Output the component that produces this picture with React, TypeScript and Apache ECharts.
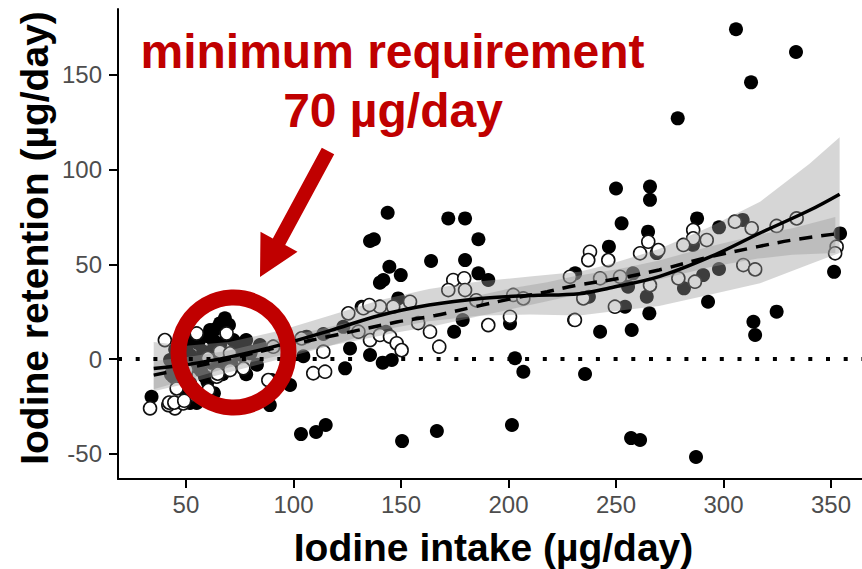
import React, { useEffect, useRef } from 'react';
import * as echarts from 'echarts';

const X_TICKS = [50, 100, 150, 200, 250, 300, 350];
const Y_TICKS = [-50, 0, 50, 100, 150];

const filledPoints: [number, number][] = [
  [305.8, 174], [333.7, 162], [312.8, 146], [278.7, 127],
  [250, 90], [265.8, 91], [265.8, 84], [252.6, 71.6], [264.9, 67.2], [246.7, 59.3], [287.7, 74.2], [297.9, 69.5],
  [308.9, 73.4], [268.9, 55.9], [285.8, 60.2], [231, 45.2], [237.4, 32.9], [257.9, 45.2], [255.6, 38.2], [264.3, 32.9],
  [290.5, 44.3], [297.9, 47.5], [281.6, 37.3], [292.8, 30.2], [254.2, 27.6], [265.5, 24.1], [242.6, 14.4], [257.3, 15.3],
  [313.9, 19.7], [314.7, 12.7], [324.7, 25], [351.4, 46], [354.2, 66.3],
  [287.2, -51.7], [257, -41.7], [261.2, -42.7], [235.6, -7.9], [201.6, -34.8], [166.7, -38], [150.5, -43.3],
  [103.5, -39.6], [110.5, -38.5], [115, -34.8], [89, -24.3],
  [143.8, 77.2], [135.6, 62.3], [137.4, 63.2], [172, 74.2], [179.8, 74.2], [186, 63.2], [164, 51.7], [179.8, 52.2],
  [144.6, 48.7], [149.9, 44.3], [141.8, 41.7], [140.2, 40.3], [186, 45.2], [190.6, 41.7], [131.7, 27.6], [148.7, 32],
  [123.2, 17], [113.9, 13.2], [106.1, 11.8], [104.6, 1.5], [126.3, 5.6], [143, 14.4], [178.7, 20.6], [174.7, 14.4],
  [200.7, 18.8], [135.6, 2.1], [141.5, -1.9], [145.7, -0.5], [124, -4.9], [203, 0.4], [206.9, -6.7], [230.5, 20.6],
  [68.1, 21.5], [65.8, 18.8], [61.2, 15.3], [55.7, 8.3], [62.7, 10], [72, 10], [75.1, 6.5], [50.3, 6.5], [47.2, 1.2],
  [42.6, -0.5], [44.1, -9.3], [55, -4.1], [51.9, -12.7], [65.8, -4.1], [58.8, -9.3], [34, -19.9], [51.9, -23.2],
  [55, -23.2], [89.9, -11.1], [98.4, -13.7], [84.4, 7.4],
  [45, 5], [48, -3], [50, -8], [52, 2], [53, 10], [56, 0], [57, -6], [58, 4], [60, 12], [60, -12], [62, -2], [63, 6],
  [64, 16], [66, 8], [67, -8], [68, 2], [69, 12], [70, 18], [71, -2], [73, 4], [74, 8], [76, 2], [78, 10], [80, 4],
  [43, -8], [46, -12], [49, -16], [53, -18], [57, -20], [60, -22], [63, -18], [80, 3], [83, -3], [78, -8],
];

const openPoints: [number, number][] = [
  [40.2, 10], [55, 13.5], [68.9, 13.5], [44.9, -26], [41.8, -24.3], [33.3, -26], [48.7, -23.4], [54.2, -19],
  [60.4, -16.4], [64.3, -9.3], [70.5, -5.8], [76.7, -4.9], [65.8, 3.9], [70.5, 3], [90.6, 6.5], [103.8, 10.9],
  [88.3, -11.1], [60.2, 0.5], [50.3, -5.8], [45.7, -15.5], [42.2, -23], [44.6, -23], [49.2, -22], [64.8, -7.7],
  [174.3, 41.7], [179.4, 42.6], [172, 36.4], [179.8, 36.4], [154.2, 30.2], [146.4, 27.6], [140.2, 27.6], [132.5, 26.8],
  [125.5, 24.1], [135.3, 28.5], [163.5, 14.4], [167.8, 6.5], [190.6, 17.9], [202.2, 33.8], [206.9, 32], [200.7, 22.3],
  [230.9, 20.6], [113.9, 3.9], [109.2, -7.5], [114.7, -6.7], [130.2, 14.4], [135.6, 10], [140.2, 12.7], [144.9, 11.8],
  [148, 8.3], [150.3, 4.7], [158, 19], [185, 31],
  [237.9, 56.6], [237.1, 52.2], [246.4, 52.2], [261.2, 55.8], [265, 61.9], [269.7, 57.5], [285.9, 68.1], [285.9, 63.7],
  [281.3, 60.2], [292.2, 62.8], [305.3, 72.5], [313.1, 69], [324.7, 70.2], [334, 74.2], [352.6, 59.3], [351.9, 55.8],
  [242.6, 42.6], [228.6, 43.4], [234.8, 32], [251.9, 43.4], [265.8, 39], [279, 42.6], [286.7, 40.8], [309.2, 49.6],
  [314.7, 47.3], [249.5, 27.6],
];

// loess fit (solid) and its confidence band
const solidX = [35, 50, 70, 94, 117, 140, 163, 187, 210, 233, 247, 270, 294, 317, 340, 354];
const solidY = [-5, -3, 1, 7.5, 15, 23, 28.5, 32, 33.5, 34.5, 37.5, 43.5, 54, 66.5, 78.5, 87];
const solidLo = [-17, -13, -7, 0, 7, 15, 20, 23, 23.5, 23, 25, 28, 34, 40, 50, 56];
const solidHi = [9, 7, 9, 15, 23, 31, 37, 41, 43.5, 46, 50, 58, 70, 83, 103, 117];

// second fit (dashed) and its confidence band
const dashedX = [35, 50, 70, 94, 117, 148, 166, 184, 202, 218, 230, 252, 270, 294, 316, 332, 352];
const dashedY = [-8.5, -5, 0, 6.5, 12, 19.5, 23, 27.5, 32, 35.5, 38.5, 42.7, 47, 54, 59.3, 62.8, 66];
const dashedLo = [-16, -11, -4.5, 2, 7, 14, 17.5, 22, 26.5, 30.5, 33.5, 37.7, 42, 48.5, 53, 55, 56];
const dashedHi = [-1, 1, 4.5, 11, 17, 25, 28.5, 33, 37.5, 40.5, 43.5, 47.7, 52, 59.5, 65.5, 69, 75];

const RED = '#C00000';
const FONT = '"Liberation Sans", Arial, Helvetica, sans-serif';

export default function App() {
  const ref = useRef<HTMLDivElement>(null);
  useEffect(() => {
    const chart = echarts.init(ref.current!, null, { renderer: 'svg' });

    const band = (xs: number[], lo: number[], hi: number[], name: string) => ({
      type: 'custom',
      name,
      silent: true,
      z: 3,
      data: xs.map((x, i) => [x, lo[i], hi[i]]),
      encode: { x: 0, y: [1, 2] },
      renderItem: (params: any, api: any) => {
        if (params.dataIndex !== 0) return null;
        const top = xs.map((x, i) => api.coord([x, hi[i]]));
        const bot = xs.map((x, i) => api.coord([x, lo[i]])).reverse();
        return {
          type: 'polygon',
          shape: { points: top.concat(bot) },
          style: { fill: 'rgba(153,153,153,0.4)' },
        };
      },
    });

    const textStyle = (text: string, font: string, fill: string) => ({
      text,
      font,
      fill,
      align: 'center',
      verticalAlign: 'middle',
      textAlign: 'center',
      textVerticalAlign: 'middle',
    });

    const option: any = {
      animation: false,
      grid: { left: 118, top: 9, right: 0, bottom: 90, containLabel: false },
      xAxis: {
        type: 'value',
        min: 18.4,
        max: 364.4,
        axisLine: { show: true, onZero: false, lineStyle: { color: '#000', width: 2 } },
        axisTick: { show: true, length: 9, customValues: X_TICKS, lineStyle: { color: '#000', width: 2 } },
        axisLabel: { customValues: X_TICKS, color: '#4d4d4d', fontSize: 24, fontFamily: FONT, margin: 13 },
        splitLine: { show: false },
      },
      yAxis: {
        type: 'value',
        min: -63.3,
        max: 184.7,
        axisLine: { show: true, onZero: false, lineStyle: { color: '#000', width: 2 } },
        axisTick: { show: true, length: 9, customValues: Y_TICKS, lineStyle: { color: '#000', width: 2 } },
        axisLabel: { customValues: Y_TICKS, color: '#4d4d4d', fontSize: 24, fontFamily: FONT, margin: 16 },
        splitLine: { show: false },
      },
      series: [
        {
          type: 'scatter',
          name: 'filled',
          silent: true,
          z: 2,
          symbol: 'circle',
          symbolSize: 14,
          itemStyle: { color: '#000', opacity: 1 },
          data: filledPoints,
        },
        {
          type: 'scatter',
          name: 'open',
          silent: true,
          z: 2,
          symbol: 'circle',
          symbolSize: 13,
          itemStyle: { color: '#fff', borderColor: '#111', borderWidth: 1.6, opacity: 1 },
          data: openPoints,
        },
        band(solidX, solidLo, solidHi, 'solidBand'),
        band(dashedX, dashedLo, dashedHi, 'dashedBand'),
        {
          type: 'line',
          name: 'solid',
          silent: true,
          z: 4,
          smooth: 0.35,
          showSymbol: false,
          lineStyle: { color: '#000', width: 3.5 },
          data: solidX.map((x, i) => [x, solidY[i]]),
        },
        {
          type: 'line',
          name: 'dashed',
          silent: true,
          z: 4,
          smooth: 0.35,
          showSymbol: false,
          lineStyle: { color: '#000', width: 3.5, type: [13, 9] },
          data: dashedX.map((x, i) => [x, dashedY[i]]),
          markLine: {
            silent: true,
            symbol: ['none', 'none'],
            label: { show: false },
            lineStyle: { color: '#000', width: 4, type: [4, 13.7], cap: 'butt' },
            data: [{ yAxis: 0 }],
          },
        },
      ],
      graphic: [
        {
          type: 'polygon',
          z: 100,
          shape: {
            points: [[334.2, 154.3], [285.2, 245.1], [297.5, 251.8], [260, 277], [260.5, 231.8], [272.8, 238.5], [321.8, 147.7]],
          },
          style: { fill: RED },
        },
        {
          type: 'circle',
          z: 100,
          shape: { cx: 233.5, cy: 352.5, r: 55 },
          style: { fill: 'none', stroke: RED, lineWidth: 16 },
        },
        { type: 'text', z: 100, x: 392.5, y: 51, style: textStyle('minimum requirement', `bold 48px ${FONT}`, RED) },
        { type: 'text', z: 100, x: 393, y: 110, style: textStyle('70 µg/day', `bold 48px ${FONT}`, RED) },
        {
          type: 'text',
          z: 100,
          x: 34.5,
          y: 238,
          rotation: Math.PI / 2,
          style: textStyle('Iodine retention (µg/day)', `bold 39px ${FONT}`, '#000'),
        },
        { type: 'text', z: 100, x: 493.5, y: 547, style: textStyle('Iodine intake (µg/day)', `bold 39px ${FONT}`, '#000') },
      ],
    };

    chart.setOption(option);
    return () => {
      chart.dispose();
    };
  }, []);

  return (
    <div
      ref={ref}
      style={{ position: 'fixed', left: 0, top: 0, width: 862, height: 569, background: '#fff' }}
    />
  );
}
